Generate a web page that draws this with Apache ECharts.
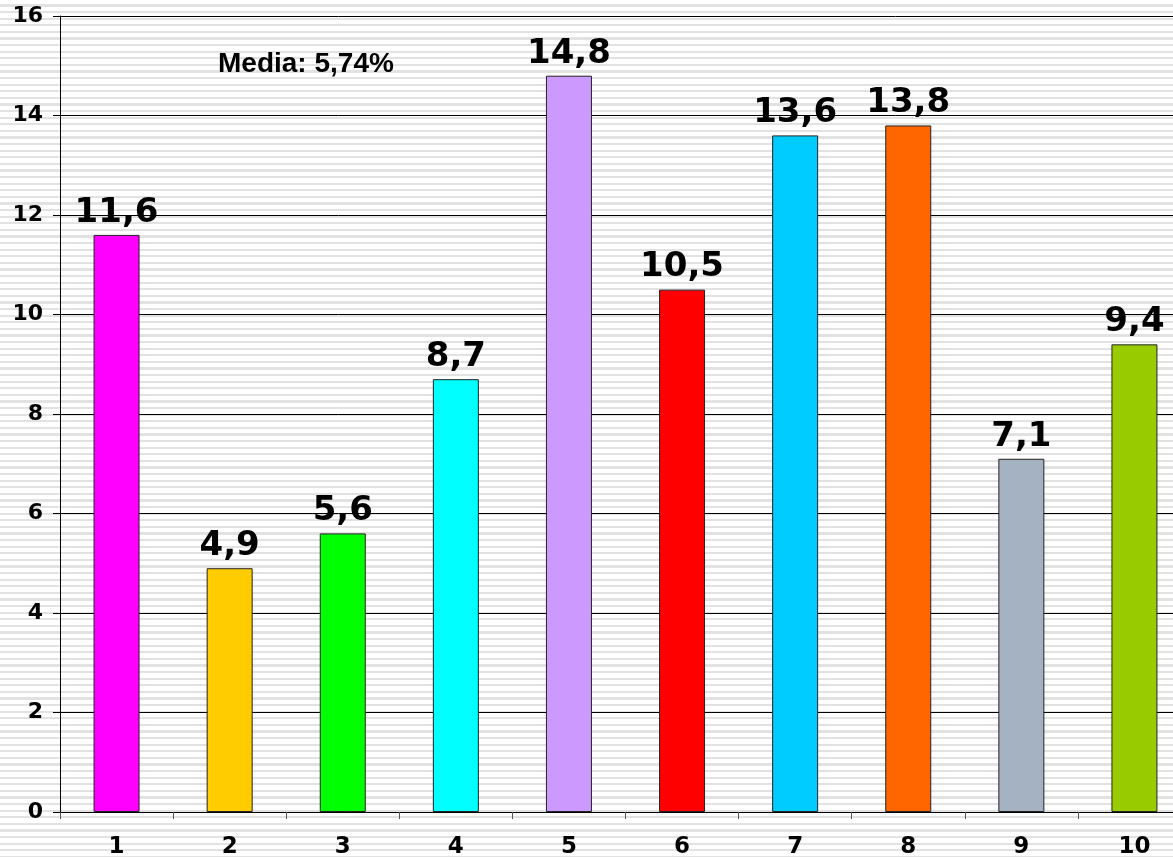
<!DOCTYPE html>
<html lang="es">
<head>
    <meta charset="UTF-8">
    <title>Media</title>
    <script src="https://cdn.jsdelivr.net/npm/echarts@6.0.0/dist/echarts.min.js"></script>
    <style>
        html, body {
            margin: 0;
            padding: 0;
            width: 1173px;
            height: 857px;
            overflow: hidden;
            /* rayado gris del fondo */
            background: repeating-linear-gradient(to bottom, #ffffff 0px, #ffffff 4.4px, #e2e2e2 4.4px, #e2e2e2 6.6px);
        }
        #chart {
            width: 1173px;
            height: 857px;
        }
    </style>
</head>
<body>
    <div id="chart"></div>
    <script>
        const categories = ['1', '2', '3', '4', '5', '6', '7', '8', '9', '10'];
        const values = [11.6, 4.9, 5.6, 8.7, 14.8, 10.5, 13.6, 13.8, 7.1, 9.4];
        const barColors = ['#FF00FF', '#FFCC00', '#00FF00', '#00FFFF', '#CC99FF',
                           '#FF0000', '#00CCFF', '#FF6600', '#A4B2C2', '#99CC00'];
        const mediaText = 'Media: 5,74%';

        const chart = echarts.init(document.getElementById('chart'));

        const option = {
            backgroundColor: 'transparent',
            animation: false,
            grid: {
                left: 60,
                top: 16,
                width: 1131,
                height: 796,
                outerBoundsMode: 'none'
            },
            graphic: [{
                type: 'text',
                left: 218,
                top: 50,
                style: {
                    text: mediaText,
                    font: 'bold 28px "Liberation Sans", Arial, sans-serif',
                    fill: '#000'
                }
            }],
            xAxis: {
                type: 'category',
                data: categories,
                axisLine: { lineStyle: { color: '#000', width: 1 } },
                axisTick: { show: true, length: 7, lineStyle: { color: '#555' } },
                axisLabel: {
                    margin: 24,
                    color: '#000',
                    fontFamily: 'DejaVu Sans',
                    fontWeight: 'bold',
                    fontSize: 23
                }
            },
            yAxis: {
                type: 'value',
                min: 0,
                max: 16,
                interval: 2,
                axisLine: { show: true, lineStyle: { color: '#000', width: 1 } },
                axisTick: { show: true, length: 7, lineStyle: { color: '#000' } },
                splitLine: { lineStyle: { color: '#000', width: 1 } },
                axisLabel: {
                    margin: 17,
                    color: '#000',
                    fontFamily: 'DejaVu Sans',
                    fontWeight: 'bold',
                    fontSize: 22
                }
            },
            series: [{
                type: 'bar',
                barWidth: 46,
                data: values.map((v, i) => ({
                    value: v,
                    itemStyle: { color: barColors[i] }
                })),
                itemStyle: {
                    borderColor: '#222',
                    borderWidth: 1
                },
                label: {
                    show: true,
                    position: 'top',
                    distance: 5,
                    color: '#000',
                    fontFamily: 'DejaVu Sans',
                    fontWeight: 'bold',
                    fontSize: 34,
                    formatter: p => String(p.value).replace('.', ',')
                }
            }]
        };

        chart.setOption(option);
    </script>
</body>
</html>
